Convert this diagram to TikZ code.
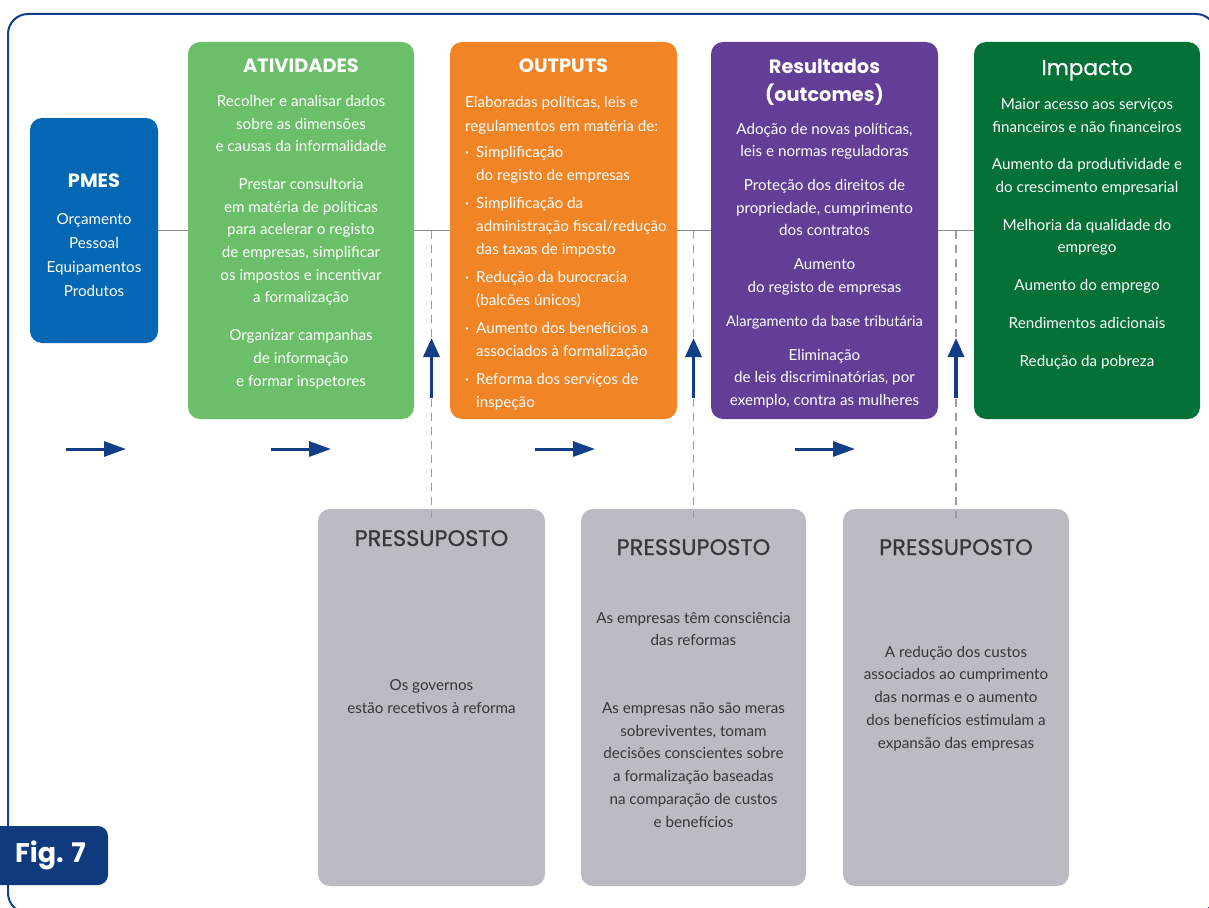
\documentclass[tikz,border=0pt]{standalone}
\usepackage{fontspec}
\setmainfont{Lato}
\newfontfamily\headfont{Poppins}
\newfontfamily\headmedfont{Poppins}[FakeBold=0.7]
\usetikzlibrary{arrows.meta}

\definecolor{navy}{HTML}{123D87}
\definecolor{figblue}{HTML}{0F3A7D}
\definecolor{pmesblue}{HTML}{0467B4}
\definecolor{actgreen}{HTML}{6BBF69}
\definecolor{outorange}{HTML}{F18424}
\definecolor{respurple}{HTML}{623E97}
\definecolor{impgreen}{HTML}{047136}
\definecolor{assgray}{HTML}{BBBBC3}
\definecolor{linegray}{HTML}{8A8A8A}
\definecolor{dashgray}{HTML}{9A9AA0}
\definecolor{darktext}{HTML}{36363B}

\newcommand\outbul{\makebox[11pt][l]{·}}
\newcommand\outind{\hspace*{11pt}}

\begin{document}
\begin{tikzpicture}[x=1pt,y=-1pt,
  card/.style={rounded corners=12pt, inner sep=0pt, outer sep=0pt, draw=none},
  head/.style={font=\headfont\bfseries\fontsize{19.3}{28}\selectfont, text=white,
    anchor=base, inner sep=0pt, align=center},
  body/.style={font=\fontsize{15.2}{22.7}\selectfont, text=white,
    anchor=base, inner sep=0pt, align=center},
  asshead/.style={font=\headmedfont\fontsize{22.5}{26}\selectfont, text=darktext,
    anchor=base, inner sep=0pt},
  assbody/.style={body, text=darktext},
  flow/.style={linegray, line width=1.3pt},
  dashline/.style={dashgray, line width=1.3pt, dash pattern=on 8pt off 6pt},
  uparrow/.style={navy, line width=3.5pt, -{Triangle[width=16pt,length=19pt]}},
  rarrow/.style={navy, line width=3pt, -{Triangle[width=15pt,length=22pt]}}]

\useasboundingbox (0,0) rectangle (1209,907);

% outer frame
\draw[navy, line width=2pt, rounded corners=20pt] (8,14) rectangle (1216,913);

% figure label
\node[card, rounded corners=10pt, fill=figblue, minimum width=118pt, minimum height=59pt,
  text=white, font=\headfont\bfseries\fontsize{27}{30}\selectfont] (fig) at (49,855.5)
  {\hspace*{3pt}Fig. 7};

% chain of cards
\node[card, fill=pmesblue, minimum width=128pt, minimum height=225pt] (pmes) at (94,230.5) {};
\node[card, fill=actgreen, minimum width=226pt, minimum height=377pt] (act) at (301,230.5) {};
\node[card, fill=outorange, minimum width=227pt, minimum height=377pt] (out) at (563.5,230.5) {};
\node[card, fill=respurple, minimum width=227pt, minimum height=377pt] (res) at (824.5,230.5) {};
\node[card, fill=impgreen, minimum width=226pt, minimum height=377pt] (imp) at (1087,230.5) {};

% assumption cards
\node[card, fill=assgray, minimum width=227pt, minimum height=377pt] (p1) at (431.5,697.5) {};
\node[card, fill=assgray, minimum width=225pt, minimum height=377pt] (p2) at (693.5,697.5) {};
\node[card, fill=assgray, minimum width=226pt, minimum height=377pt] (p3) at (956,697.5) {};

% flow line between cards
\draw[flow] (pmes.east) -- (act.west);
\draw[flow] (act.east) -- (out.west);
\draw[flow] (out.east) -- (res.west);
\draw[flow] (res.east) -- (imp.west);

% dashed links from the flow line to the assumptions
\coordinate (j1) at (p1.north |- act.east);
\coordinate (j2) at (p2.north |- out.east);
\coordinate (j3) at (p3.north |- res.east);
\draw[dashline] (j1) -- ([yshift=-9pt]p1.north);
\draw[dashline] (j2) -- ([yshift=-9pt]p2.north);
\draw[dashline] (j3) -- ([yshift=-9pt]p3.north);

% upward arrows on the dashed links
\coordinate (u1s) at (p1.north |- 0,398);
\coordinate (u1e) at (p1.north |- 0,338);
\coordinate (u2s) at (p2.north |- 0,398);
\coordinate (u2e) at (p2.north |- 0,338);
\coordinate (u3s) at (p3.north |- 0,398);
\coordinate (u3e) at (p3.north |- 0,338);
\draw[uparrow] (u1s) -- (u1e);
\draw[uparrow] (u2s) -- (u2e);
\draw[uparrow] (u3s) -- (u3e);

% rightward arrows below the chain
\coordinate (r1s) at (66,449);  \coordinate (r1e) at (126,449);
\coordinate (r2s) at (271,449); \coordinate (r2e) at (331,449);
\coordinate (r3s) at (535,449); \coordinate (r3e) at (595,449);
\coordinate (r4s) at (795,449); \coordinate (r4e) at (855,449);
\draw[rarrow] (r1s) -- (r1e);
\draw[rarrow] (r2s) -- (r2e);
\draw[rarrow] (r3s) -- (r3e);
\draw[rarrow] (r4s) -- (r4e);

% PMES (multi-line texts are placed by the baseline of their last line)
\node[head] (pmesh) at (94,187) {PMES};
\node[body, font=\fontsize{15.2}{24}\selectfont] (pmesb) at (94,296)
  {Orçamento\\Pessoal\\Equipamentos\\Produtos};

% ATIVIDADES
\node[head] (acth) at (301,73) {ATIVIDADES};
\node[body] (actb) at (301,386)
  {Recolher e analisar dados\\sobre as dimensões\\e causas da informalidade\\[15pt]
   Prestar consultoria\\em matéria de políticas\\para acelerar o registo\\de empresas, simplificar\\os impostos e incentivar\\a formalização\\[15pt]
   Organizar campanhas\\de informação\\e formar inspetores};

% OUTPUTS
\node[head] (outh) at (563.5,73) {OUTPUTS};
\node[body, align=left, anchor=base west, font=\fontsize{15.2}{23}\selectfont] (outb) at (465,407)
  {Elaboradas políticas, leis e\\[1pt]regulamentos em matéria de:\\[3pt]
   \outbul Simplificação\\\outind do registo de empresas\\[5pt]
   \outbul Simplificação da\\\outind administração fiscal/redução\\\outind das taxas de imposto\\[5pt]
   \outbul Redução da burocracia\\\outind (balcões únicos)\\[5pt]
   \outbul Aumento dos benefícios a\\\outind associados à formalização\\[5pt]
   \outbul Reforma dos serviços de\\\outind inspeção};

% Resultados
\node[head] (resh) at (824.5,101) {Resultados\\(outcomes)};
\node[body, font=\fontsize{15.2}{22.5}\selectfont] (resb) at (824.5,405)
  {Adoção de novas políticas,\\leis e normas reguladoras\\[11.5pt]
   Proteção dos direitos de\\propriedade, cumprimento\\dos contratos\\[11.5pt]
   Aumento\\do registo de empresas\\[11.5pt]
   {\fontsize{14.6}{22.5}\selectfont Alargamento da base tributária}\\[11.5pt]
   Eliminação\\de leis discriminatórias, por\\exemplo, contra as mulheres};

% Impacto
\node[head, font=\headmedfont\fontsize{21.5}{26}\selectfont] (imph) at (1087,75) {Impacto};
\node[body] (impb) at (1087,366)
  {Maior acesso aos serviços\\financeiros e não financeiros\\[15pt]
   Aumento da produtividade e\\do crescimento empresarial\\[15pt]
   Melhoria da qualidade do\\emprego\\[15pt]
   Aumento do emprego\\[15pt]
   Rendimentos adicionais\\[15pt]
   Redução da pobreza};

% assumptions
\node[asshead] (p1h) at (431.5,546) {PRESSUPOSTO};
\node[assbody] (p1b) at (431.5,713) {Os governos\\estão recetivos à reforma};

\node[asshead] (p2h) at (693.5,555) {PRESSUPOSTO};
\node[assbody] (p2b) at (693.5,827)
  {As empresas têm consciência\\das reformas\\[45pt]
   As empresas não são meras\\sobreviventes, tomam\\decisões conscientes sobre\\a formalização baseadas\\na comparação de custos\\e benefícios};

\node[asshead] (p3h) at (956,555) {PRESSUPOSTO};
\node[assbody] (p3b) at (956,748)
  {A redução dos custos\\associados ao cumprimento\\das normas e o aumento\\dos benefícios estimulam a\\expansão das empresas};

\end{tikzpicture}
\end{document}
